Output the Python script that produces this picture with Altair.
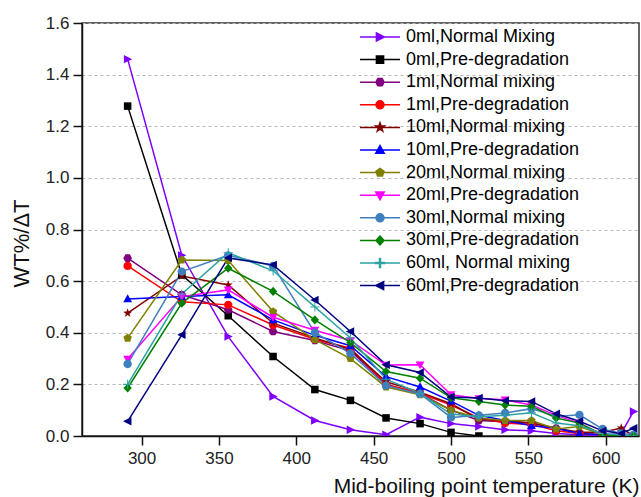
import altair as alt
import pandas as pd
import math

# ---------------- data ----------------
temps = [291, 326, 356, 385, 412, 435, 458, 480, 500, 518, 535, 552, 568, 583, 598, 610, 618]

series_names = [
    "0ml,Normal Mixing", "0ml,Pre-degradation",
    "1ml,Normal mixing", "1ml,Pre-degradation",
    "10ml,Normal mixing", "10ml,Pre-degradation",
    "20ml,Normal mixing", " 20ml,Pre-degradation",
    "30ml,Normal mixing", "30ml,Pre-degradation",
    "60ml, Normal mixing", " 60ml,Pre-degradation",
]

v0_nm = [1.46, 0.70, 0.385, 0.153, 0.06, 0.024, 0.005, 0.073, 0.048, 0.037, 0.024, 0.02, 0.01, 0.005, 0.003, 0.01, 0.095]
v0_pd = [1.278, 0.624, 0.466, 0.308, 0.18, 0.138, 0.07, 0.048, 0.014, 0.0, None, None, None, None, None, None, None]
v1_nm = [0.689, 0.547, 0.489, 0.405, 0.37, 0.33, 0.20, 0.165, 0.10, 0.06, 0.055, 0.05, 0.03, 0.01, 0.005, 0.0, 0.0]
v1_pd = [0.659, 0.52, 0.508, 0.43, 0.375, 0.34, 0.20, 0.165, 0.12, 0.07, 0.05, 0.045, 0.02, 0.01, 0.005, 0.0, 0.0]
v10_nm = [0.476, 0.62, 0.585, 0.437, 0.38, 0.335, 0.21, 0.17, 0.125, 0.065, 0.06, 0.05, 0.03, 0.015, 0.015, 0.031, 0.0]
v10_pd = [0.531, 0.54, 0.547, 0.45, 0.39, 0.35, 0.23, 0.19, 0.135, 0.08, 0.06, 0.04, 0.03, 0.01, 0.005, 0.0, 0.0]
v20_nm = [0.379, 0.682, 0.68, 0.482, 0.373, 0.30, 0.19, 0.16, 0.10, 0.07, 0.06, 0.06, 0.027, 0.037, 0.005, 0.0, 0.0]
v20_pd = [0.298, 0.54, 0.566, 0.46, 0.41, 0.37, 0.275, 0.276, 0.16, 0.145, 0.14, 0.12, 0.08, 0.05, 0.005, 0.0, 0.0]
v30_nm = [0.279, 0.637, 0.70, 0.659, 0.40, 0.32, 0.195, 0.163, 0.072, 0.08, 0.089, 0.106, 0.076, 0.082, 0.027, 0.01, 0.005]
v30_pd = [0.186, 0.515, 0.65, 0.56, 0.45, 0.362, 0.25, 0.224, 0.148, 0.134, 0.12, 0.115, 0.07, 0.05, 0.005, 0.0, 0.0]
v60_nm = [0.20, 0.55, 0.71, 0.64, 0.50, 0.38, 0.22, 0.165, 0.085, 0.075, 0.08, 0.09, 0.05, 0.04, 0.01, 0.005, 0.0]
v60_pd = [0.057, 0.392, 0.69, 0.663, 0.527, 0.405, 0.276, 0.246, 0.151, 0.147, 0.137, 0.134, 0.086, 0.057, 0.02, 0.01, 0.03]

all_values = [v0_nm, v0_pd, v1_nm, v1_pd, v10_nm, v10_pd, v20_nm, v20_pd, v30_nm, v30_pd, v60_nm, v60_pd]

colors = ["#8000ff", "#000000", "#800080", "#ff0000", "#800000", "#0000ff",
          "#808000", "#ff00ff", "#3f7fbf", "#008000", "#2ca3a3", "#000080"]

y_ticks = [0.0, 0.2, 0.4, 0.6, 0.8, 1.0, 1.2, 1.4, 1.6]
x_ticks = [300, 350, 400, 450, 500, 550, 600]

# ---------------- marker shapes (unit box -1..1) ----------------
def poly(pts):
    return "M" + "L".join(f"{x:.3f},{y:.3f}" for x, y in pts) + "Z"

def regular(n, r=1.0, start=-90):
    return [(r * math.cos(math.radians(start + 360 * i / n)),
             r * math.sin(math.radians(start + 360 * i / n))) for i in range(n)]

def star():
    pts = []
    for i in range(10):
        r = 1.15 if i % 2 == 0 else 0.45
        a = math.radians(-90 + 36 * i)
        pts.append((r * math.cos(a), r * math.sin(a)))
    return pts

circle = "M-1,0A1,1,0,1,0,1,0A1,1,0,1,0,-1,0Z"
marker_paths = [
    poly([(-0.9, -1), (1.1, 0), (-0.9, 1)]),            # triangle right
    "M-0.9,-0.9H0.9V0.9H-0.9Z",                          # square
    poly(regular(6, 1.05, 0)),                           # hexagon
    circle,                                              # circle
    poly(star()),                                        # star
    poly([(0, -1.1), (1.05, 0.8), (-1.05, 0.8)]),        # triangle up
    poly(regular(5, 1.05, -90)),                         # pentagon
    poly([(0, 1.1), (1.05, -0.8), (-1.05, -0.8)]),       # triangle down
    circle,                                              # circle (sphere)
    poly([(0, -1.1), (1.0, 0), (0, 1.1), (-1.0, 0)]),    # diamond
    "M-1.1,-0.12H1.1V0.12H-1.1Z M-0.12,-1.1H0.12V1.1H-0.12Z",  # thin plus
    poly([(0.9, -1), (-1.1, 0), (0.9, 1)]),              # triangle left
]
legend_line = "M-5.0,0H5.0 "
legend_paths = [legend_line + p for p in marker_paths]

rows = []
for name, vals in zip(series_names, all_values):
    for t, v in zip(temps, vals):
        if v is not None:
            rows.append({"T": t, "val": v, "series": name})
df = pd.DataFrame(rows)

FONT = "Liberation Sans"

x_enc = alt.X("T:Q", scale=alt.Scale(domain=[261.5, 621.5], nice=False, zero=False),
              axis=alt.Axis(values=x_ticks, title="Mid-boiling point temperature (K)",
                            grid=False, tickSize=9, labelPadding=5, labelFontSize=17,
                            titleFontSize=21, titleFontWeight="normal",
                            titleAlign="right", titleX=557, titleY=50,
                            titleBaseline="middle", titleAnchor="end"))
y_enc = alt.Y("val:Q", scale=alt.Scale(domain=[0, 1.6], nice=False),
              axis=alt.Axis(values=y_ticks, format=".1f", title="WT%/ΔT",
                            grid=True, gridDash=[3, 3], gridColor="#b8b8b8", gridWidth=1,
                            tickSize=9, labelPadding=4, labelFontSize=17,
                            titleFontSize=22, titleFontWeight="normal",
                            titleAngle=270, titleX=-61, titleY=220,
                            titleBaseline="middle", titleAlign="center", titleAnchor="middle"))

color_scale = alt.Scale(domain=series_names, range=colors)

lines = alt.Chart(df).mark_line(strokeWidth=1.5, clip=True).encode(
    x=x_enc, y=y_enc,
    color=alt.Color("series:N", scale=color_scale, legend=None),
    detail="series:N",
    order="T:Q",
)

points = alt.Chart(df).mark_point(filled=True, size=70, opacity=1, clip=True).encode(
    x="T:Q", y="val:Q",
    color=alt.Color("series:N", scale=color_scale, legend=None),
    shape=alt.Shape("series:N", scale=alt.Scale(domain=series_names, range=marker_paths), legend=None),
)

leg = alt.Chart(df).transform_filter("false").mark_point(filled=True, size=64, opacity=1, strokeWidth=1.5).encode(
    x="T:Q", y="val:Q",
    color=alt.Color("series:N", scale=color_scale,
                    legend=alt.Legend(title=None, orient="none", legendX=289, legendY=5,
                                      padding=0, symbolOffset=0, labelOffset=17,
                                      rowPadding=4.6, labelFontSize=18, labelFont=FONT,
                                      labelColor="black", symbolSize=64,
                                      symbolStrokeWidth=1.5, labelLimit=400)),
    stroke=alt.Stroke("series:N", scale=color_scale, legend=None),
    shape=alt.Shape("series:N", scale=alt.Scale(domain=series_names, range=legend_paths),
                    legend=None),
)

chart = alt.layer(lines, points, leg).resolve_scale(
    color="independent", shape="independent", stroke="independent"
).properties(
    width=557, height=413,
    autosize=alt.AutoSizeParams(type="none"),
    padding={"left": 82, "top": 23, "right": 2, "bottom": 61},
    background="white",
).configure_view(
    stroke="#333333", strokeWidth=1.5
).configure_axis(
    labelFont=FONT, titleFont=FONT, labelColor="#222222", titleColor="#111111",
    domainColor="#111111", domainWidth=1.5, tickColor="#111111", tickWidth=1.5,
).configure_legend(
    labelFont=FONT
)

chart.save("out.html", embed_options={"renderer": "svg", "actions": False})
